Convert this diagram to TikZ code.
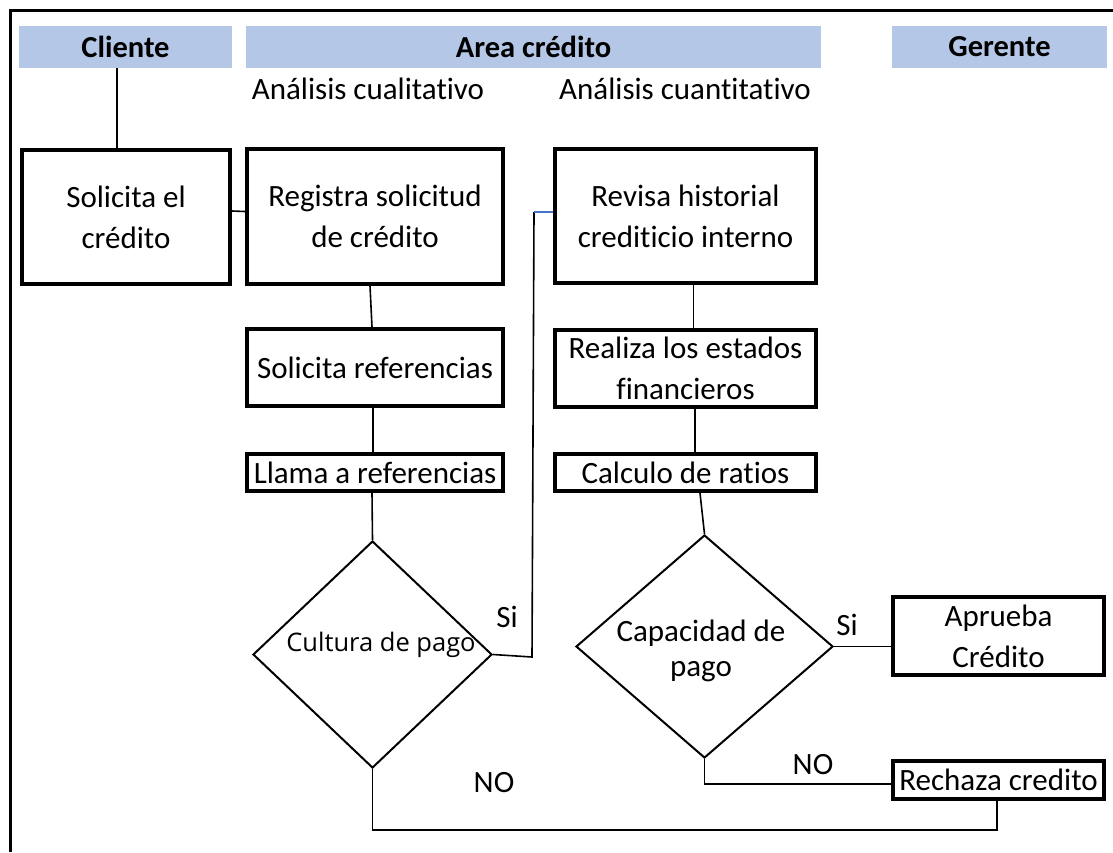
\documentclass[tikz,border=0pt]{standalone}
\usepackage{fontspec}
\setmainfont[Ligatures=NoCommon]{Carlito}
\newfontfamily\osans{Open Sans}
\usetikzlibrary{shapes.geometric,calc}
\definecolor{hdrblue}{RGB}{180,199,231}
\definecolor{lnblue}{RGB}{68,114,196}
\begin{document}
\begin{tikzpicture}[x=1pt,y=-1pt,
  txt/.style={font=\fontsize{31}{42}\selectfont, align=center, inner sep=0pt},
  hdr/.style={fill=hdrblue, inner sep=0pt, minimum height=42pt, font=\fontsize{30.5}{36}\selectfont\bfseries},
  stepbox/.style={draw, line width=4pt, inner sep=0pt, align=center, font=\fontsize{31}{41}\selectfont},
  decision/.style={diamond, draw, line width=2pt, inner sep=0pt},
  conn/.style={line width=1.6pt}
]
\useasboundingbox (0,0) rectangle (1113,852);
% outer frame
\coordinate (fa) at (10,852);
\coordinate (fb) at (10,10);
\coordinate (fc) at (1113,10);
\draw[line width=3pt] (fa) -- (fb) -- (fc);

% headers
\node[hdr, minimum width=213pt] (hc) at (125.5,47) {Cliente};
\node[hdr, minimum width=575pt] (ha) at (533.5,47) {Area crédito};
\node[hdr, minimum width=215pt] (hg) at (999.5,47) {Gerente};
\node[txt] (sub1) at (368,89) {Análisis cualitativo};
\node[txt] (sub2) at (685,89) {Análisis cuantitativo};

% boxes
\node[stepbox, minimum width=208pt, minimum height=134pt] (sol) at (126,217) {Solicita el\\crédito};
\node[stepbox, minimum width=256pt, minimum height=135pt] (reg) at (375,216.5) {Registra solicitud\\de crédito};
\node[stepbox, minimum width=256pt, minimum height=77pt] (sref) at (375,367.5) {Solicita referencias};
\node[stepbox, minimum width=256pt, minimum height=37pt] (llama) at (375,472.5) {Llama a referencias};
\node[stepbox, minimum width=261pt, minimum height=134pt] (rev) at (685.5,216) {Revisa historial\\crediticio interno};
\node[stepbox, minimum width=261pt, minimum height=77pt] (real) at (685.5,368.5) {Realiza los estados\\financieros};
\node[stepbox, minimum width=261pt, minimum height=37pt] (calc) at (685.5,472.5) {Calculo de ratios};
\node[stepbox, minimum width=211pt, minimum height=78pt] (apr) at (998.5,636) {Aprueba\\Crédito};
\node[stepbox, minimum width=211pt, minimum height=38pt] (rech) at (998.5,780) {Rechaza credito};

% decisions
\node[decision, minimum width=239pt, minimum height=227pt] (cult) at (372.5,654.5) {};
\node[inner sep=0pt, font=\osans\fontsize{25.5}{30}\selectfont] (cultt) at (381,645) {Cultura de pago};
\node[decision, minimum width=257pt, minimum height=223pt] (cap) at (704.5,646.5) {};
\node[txt, font=\fontsize{31}{35}\selectfont] (capt) at (701,651) {Capacidad de\\pago};

% labels
\node[txt] (si1) at (507,617) {Si};
\node[txt] (si2) at (847,625) {Si};
\node[txt] (no1) at (813,765) {NO};
\node[txt] (no2) at (494,783) {NO};

% connectors
\coordinate (xc) at (117,0);
\draw[conn] (hc.south -| xc) -- (sol.north -| xc);
\draw[conn] ([yshift=6pt]sol.east) -- ([yshift=5pt]reg.west);
\draw[conn] ([xshift=-5pt]reg.south) -- ([xshift=-3pt]sref.north);
\draw[conn] ([xshift=-2pt]sref.south) -- ([xshift=-2pt]llama.north);
\draw[conn] ([xshift=-3pt]llama.south) -- (cult.north);
\coordinate (k1) at (532,657);
\coordinate (k2) at (534,212);
\draw[conn] (cult.east) -- (k1) -- (k2);
\draw[conn, lnblue] (k2) -- (k2 -| rev.west);
\draw[conn] ([xshift=8pt]rev.south) -- ([xshift=8pt]real.north);
\draw[conn] ([xshift=9.5pt]real.south) -- ([xshift=9.5pt]calc.north);
\draw[conn] ([xshift=14.5pt]calc.south) -- (cap.north);
\draw[conn] (cap.east) -- (cap.east -| apr.west);
\coordinate (yn) at (0,784);
\draw[conn] (cap.south) -- (cap.south |- yn) -- (rech.west |- yn);
\coordinate (yb) at (0,830);
\draw[conn] (cult.south) -- (cult.south |- yb) -- ([xshift=-1.5pt]rech.south |- yb) -- ([xshift=-1.5pt]rech.south);
\end{tikzpicture}
\end{document}
